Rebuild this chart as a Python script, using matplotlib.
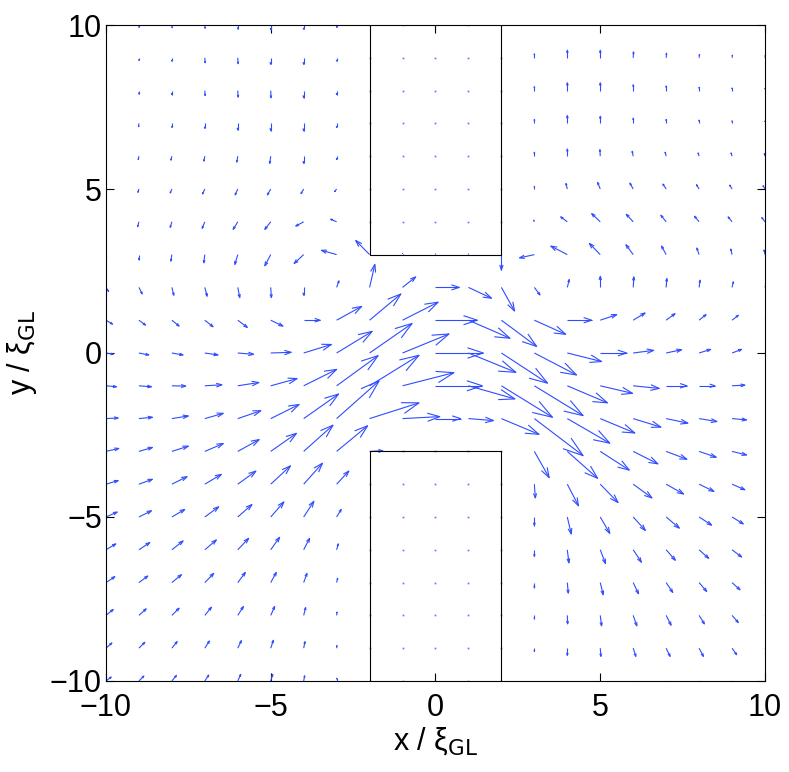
import numpy as np
import matplotlib.pyplot as plt
from matplotlib.collections import LineCollection

plt.rcParams["font.family"] = ["Liberation Sans", "DejaVu Sans"]

# grid of arrow tails (columns = x, rows = y from top to bottom)
x_grid = [-10, -9, -8, -7, -6, -5, -4, -3, -2, -1, 0, 1, 2, 3, 4, 5, 6, 7, 8, 9, 10]
y_grid = [10, 9, 8, 7, 6, 5, 4, 3, 2, 1, 0, -1, -2, -3, -4, -5, -6, -7, -8, -9, -10]

# x component of the current (data units)
U = [
    [0, 0, 0.01, 0.01, 0, 0, 0, 0, 0, 0, 0, 0, 0, 0, 0, 0, 0.01, 0.01, 0.01, 0.01, 0.01],
    [0, 0, 0, 0.01, 0.01, 0, 0, 0, 0, 0, 0, 0, 0, 0, 0, 0, 0.01, 0.01, 0.01, 0.01, 0.01],
    [0, 0, 0, 0.01, 0.01, 0.01, 0, 0, 0, 0, 0, 0, 0, 0, 0, 0, 0, 0, 0, 0, 0],
    [-0.01, -0.01, 0, 0, 0, 0, 0, 0, 0, 0, 0, 0, 0, 0, 0, 0, 0, 0, 0, 0, 0],
    [-0.02, -0.02, -0.03, -0.03, -0.03, -0.03, 0, 0, 0, 0, 0, 0, 0, 0, 0, -0.01, -0.03, -0.03, -0.03, -0.03, -0.02],
    [-0.02, -0.03, -0.05, -0.07, -0.08, -0.1, -0.08, -0.06, 0, 0, 0, 0, 0, 0, -0.04, -0.08, -0.1, -0.1, -0.08, -0.07, -0.06],
    [-0.02, -0.04, -0.05, -0.08, -0.14, -0.18, -0.24, -0.18, 0, 0, 0, 0, 0, -0.02, -0.2, -0.26, -0.21, -0.16, -0.14, -0.12, -0.1],
    [0, 0, -0.03, -0.03, -0.09, -0.18, -0.29, -0.46, -0.42, 0, 0, 0, 0, -0.45, -0.5, -0.33, -0.22, -0.14, -0.07, -0.04, -0.03],
    [0.08, 0.1, 0.06, 0.07, 0.06, 0.02, 0, 0.07, 0.16, 0.4, 0.72, 0.7, 0.4, 0.17, 0.06, 0, 0.02, 0.02, 0.03, 0.04, 0.04],
    [0.2, 0.2, 0.22, 0.25, 0.29, 0.37, 0.5, 0.76, 0.95, 1.08, 1.27, 1.26, 1.07, 0.95, 0.74, 0.5, 0.36, 0.27, 0.21, 0.19, 0.17],
    [0.22, 0.3, 0.34, 0.4, 0.48, 0.62, 0.84, 1.08, 1.29, 1.41, 1.45, 1.44, 1.4, 1.28, 1.04, 0.8, 0.62, 0.47, 0.35, 0.29, 0.25],
    [0.32, 0.38, 0.42, 0.52, 0.64, 0.8, 1.0, 1.26, 1.5, 1.56, 1.42, 1.41, 1.55, 1.48, 1.22, 0.98, 0.79, 0.63, 0.48, 0.39, 0.33],
    [0.37, 0.41, 0.5, 0.56, 0.7, 0.86, 1.06, 1.29, 1.5, 1.13, 0.76, 0.76, 1.14, 1.48, 1.29, 1.05, 0.84, 0.66, 0.54, 0.44, 0.38],
    [0.39, 0.41, 0.5, 0.56, 0.65, 0.78, 0.89, 0.94, 0.4, 0, 0, 0, 0, 0.45, 0.92, 0.88, 0.75, 0.63, 0.52, 0.44, 0.38],
    [0.37, 0.41, 0.46, 0.5, 0.55, 0.6, 0.57, 0.37, 0, 0, 0, 0, 0, 0.03, 0.34, 0.54, 0.57, 0.53, 0.45, 0.39, 0.34],
    [0.34, 0.38, 0.39, 0.42, 0.43, 0.4, 0.31, 0.14, 0, 0, 0, 0, 0, 0, 0.12, 0.29, 0.37, 0.4, 0.38, 0.34, 0.3],
    [0.3, 0.33, 0.34, 0.35, 0.33, 0.27, 0.18, 0.05, 0, 0, 0, 0, 0, 0, 0.05, 0.16, 0.25, 0.28, 0.29, 0.29, 0.26],
    [0.27, 0.27, 0.29, 0.27, 0.23, 0.17, 0.1, 0.03, 0, 0, 0, 0, 0, 0, 0.03, 0.09, 0.16, 0.2, 0.23, 0.24, 0.22],
    [0.22, 0.22, 0.22, 0.2, 0.17, 0.12, 0.06, 0.01, 0, 0, 0, 0, 0, 0, 0.01, 0.04, 0.11, 0.15, 0.16, 0.19, 0.17],
    [0.18, 0.18, 0.16, 0.14, 0.11, 0.08, 0.04, 0.01, 0, 0, 0, 0, 0, 0, 0, 0.02, 0.08, 0.12, 0.13, 0.14, 0.13],
    [0.16, 0.15, 0.14, 0.12, 0.09, 0.06, 0.03, 0, 0, 0, 0, 0, 0, 0, 0, 0.01, 0.05, 0.08, 0.09, 0.1, 0.1],
]

# y component
V = [
    [-0.05, -0.07, -0.08, -0.1, -0.12, -0.14, -0.13, -0.07, 0, 0, 0, 0, 0, 0.1, 0.2, 0.2, 0.16, 0.12, 0.09, 0.07, 0.06],
    [-0.06, -0.08, -0.1, -0.15, -0.18, -0.2, -0.2, -0.1, 0, 0, 0, 0, 0, 0.12, 0.23, 0.23, 0.18, 0.14, 0.1, 0.08, 0.07],
    [-0.08, -0.1, -0.12, -0.15, -0.2, -0.22, -0.22, -0.12, 0, 0, 0, 0, 0, 0.12, 0.24, 0.24, 0.18, 0.14, 0.1, 0.08, 0.07],
    [-0.08, -0.1, -0.12, -0.15, -0.2, -0.22, -0.23, -0.12, 0, 0, 0, 0, 0, 0.12, 0.24, 0.22, 0.16, 0.12, 0.1, 0.08, 0.07],
    [-0.08, -0.1, -0.12, -0.15, -0.18, -0.22, -0.22, -0.1, 0, 0, 0, 0, 0, 0.12, 0.22, 0.2, 0.15, 0.12, 0.1, 0.1, 0.08],
    [-0.08, -0.1, -0.12, -0.15, -0.18, -0.18, -0.14, -0.08, 0, 0, 0, 0, 0, 0.08, 0.17, 0.2, 0.18, 0.15, 0.13, 0.12, 0.1],
    [-0.12, -0.15, -0.17, -0.2, -0.23, -0.23, -0.13, 0.08, 0, 0, 0, 0, 0, 0.05, 0.15, 0.25, 0.23, 0.2, 0.17, 0.15, 0.13],
    [-0.12, -0.15, -0.2, -0.25, -0.3, -0.34, -0.27, 0.13, 0.43, 0.03, 0.02, 0.02, -0.47, -0.1, 0.26, 0.34, 0.3, 0.26, 0.2, 0.17, 0.14],
    [-0.12, -0.2, -0.24, -0.27, -0.31, -0.31, -0.24, 0.2, 0.7, 0.32, 0, -0.33, -0.72, -0.23, 0.24, 0.34, 0.32, 0.27, 0.22, 0.17, 0.14],
    [-0.12, -0.15, -0.18, -0.2, -0.22, -0.18, 0, 0.42, 0.8, 0.55, 0, -0.55, -0.8, -0.43, 0, 0.17, 0.22, 0.2, 0.17, 0.15, 0.13],
    [-0.04, -0.06, -0.06, -0.06, -0.04, 0.02, 0.26, 0.66, 0.9, 0.58, 0, -0.59, -0.92, -0.67, -0.26, 0, 0.08, 0.1, 0.11, 0.11, 0.1],
    [-0.03, -0.03, -0.01, 0.03, 0.1, 0.22, 0.5, 0.92, 0.93, 0.4, 0, -0.4, -0.96, -0.91, -0.52, -0.23, -0.08, 0, 0, 0.02, 0.02],
    [0.02, 0.04, 0.08, 0.16, 0.24, 0.43, 0.75, 1.15, 0.48, 0.06, 0, -0.06, -0.48, -1.13, -0.75, -0.44, -0.26, -0.14, -0.09, -0.04, -0.03],
    [0.09, 0.12, 0.16, 0.24, 0.36, 0.55, 0.8, 0.78, 0.02, 0, 0, 0, 0, -0.8, -0.82, -0.57, -0.38, -0.24, -0.18, -0.11, -0.09],
    [0.11, 0.15, 0.23, 0.3, 0.4, 0.56, 0.64, 0.4, 0, 0, 0, 0, 0, -0.42, -0.66, -0.56, -0.42, -0.3, -0.22, -0.17, -0.14],
    [0.15, 0.19, 0.23, 0.31, 0.38, 0.46, 0.48, 0.23, 0, 0, 0, 0, 0, -0.26, -0.52, -0.5, -0.41, -0.34, -0.25, -0.21, -0.18],
    [0.18, 0.22, 0.27, 0.3, 0.35, 0.38, 0.35, 0.18, 0, 0, 0, 0, 0, -0.2, -0.4, -0.42, -0.38, -0.32, -0.26, -0.22, -0.19],
    [0.18, 0.2, 0.24, 0.28, 0.31, 0.31, 0.28, 0.13, 0, 0, 0, 0, 0, -0.15, -0.32, -0.37, -0.34, -0.3, -0.27, -0.22, -0.2],
    [0.18, 0.2, 0.22, 0.25, 0.27, 0.27, 0.24, 0.1, 0, 0, 0, 0, 0, -0.1, -0.26, -0.32, -0.32, -0.3, -0.26, -0.22, -0.2],
    [0.16, 0.18, 0.2, 0.22, 0.23, 0.24, 0.2, 0.08, 0, 0, 0, 0, 0, -0.1, -0.22, -0.25, -0.25, -0.25, -0.25, -0.2, -0.18],
    [0.12, 0.15, 0.17, 0.18, 0.2, 0.2, 0.16, 0.08, 0, 0, 0, 0, 0, -0.08, -0.18, -0.2, -0.2, -0.2, -0.18, -0.16, -0.14],
]

# outlines of the two insulating blocks
top_block_x = [-2, -2, 2, 2]
top_block_y = [10, 3, 3, 10]
bottom_block_x = [-2, -2, 2, 2]
bottom_block_y = [-10, -3, -3, -10]

X, Y = np.meshgrid(x_grid, y_grid)
U = np.array(U)
V = np.array(V)

# matlab-style open arrow heads
alpha, beta = 0.33, 0.33
tx, ty = X + U, Y + V
b1x = tx - alpha * (U + beta * V)
b1y = ty - alpha * (V - beta * U)
b2x = tx - alpha * (U - beta * V)
b2y = ty - alpha * (V + beta * U)

segs = []
for i in range(X.shape[0]):
    for j in range(X.shape[1]):
        segs.append([(X[i, j], Y[i, j]), (tx[i, j], ty[i, j])])
        segs.append([(b1x[i, j], b1y[i, j]), (tx[i, j], ty[i, j]), (b2x[i, j], b2y[i, j])])

arrow_col = "#2f4cff"

fig = plt.figure(figsize=(7.89, 7.72), dpi=100)
ax = fig.add_axes([0.1343, 0.1179, 0.8353, 0.8497])

lc = LineCollection(segs, colors=arrow_col, linewidths=0.8)
ax.add_collection(lc)

# zero vectors still leave a dot in matlab
still = (U == 0) & (V == 0)
ax.plot(X[still], Y[still], ls="none", marker="s", ms=1.2, mew=0, color=arrow_col, alpha=0.8)

ax.plot(top_block_x, top_block_y, color="k", lw=0.8)
ax.plot(bottom_block_x, bottom_block_y, color="k", lw=0.8)

ax.set_xlim(-10, 10)
ax.set_ylim(-10, 10)
ax.set_xticks([-10, -5, 0, 5, 10])
ax.set_yticks([-10, -5, 0, 5, 10])
ax.tick_params(direction="in", top=True, right=True, length=6, width=0.8, labelsize=22)
ax.tick_params(axis="x", pad=9)
ax.tick_params(axis="y", pad=3)
for s in ax.spines.values():
    s.set_linewidth(0.8)

ax.set_xlabel("x / ξ$_{\\mathrm{GL}}$", fontsize=22, labelpad=1)
ax.set_ylabel("y / ξ$_{\\mathrm{GL}}$", fontsize=22, labelpad=8)

fig.savefig("out.png", dpi=100)
